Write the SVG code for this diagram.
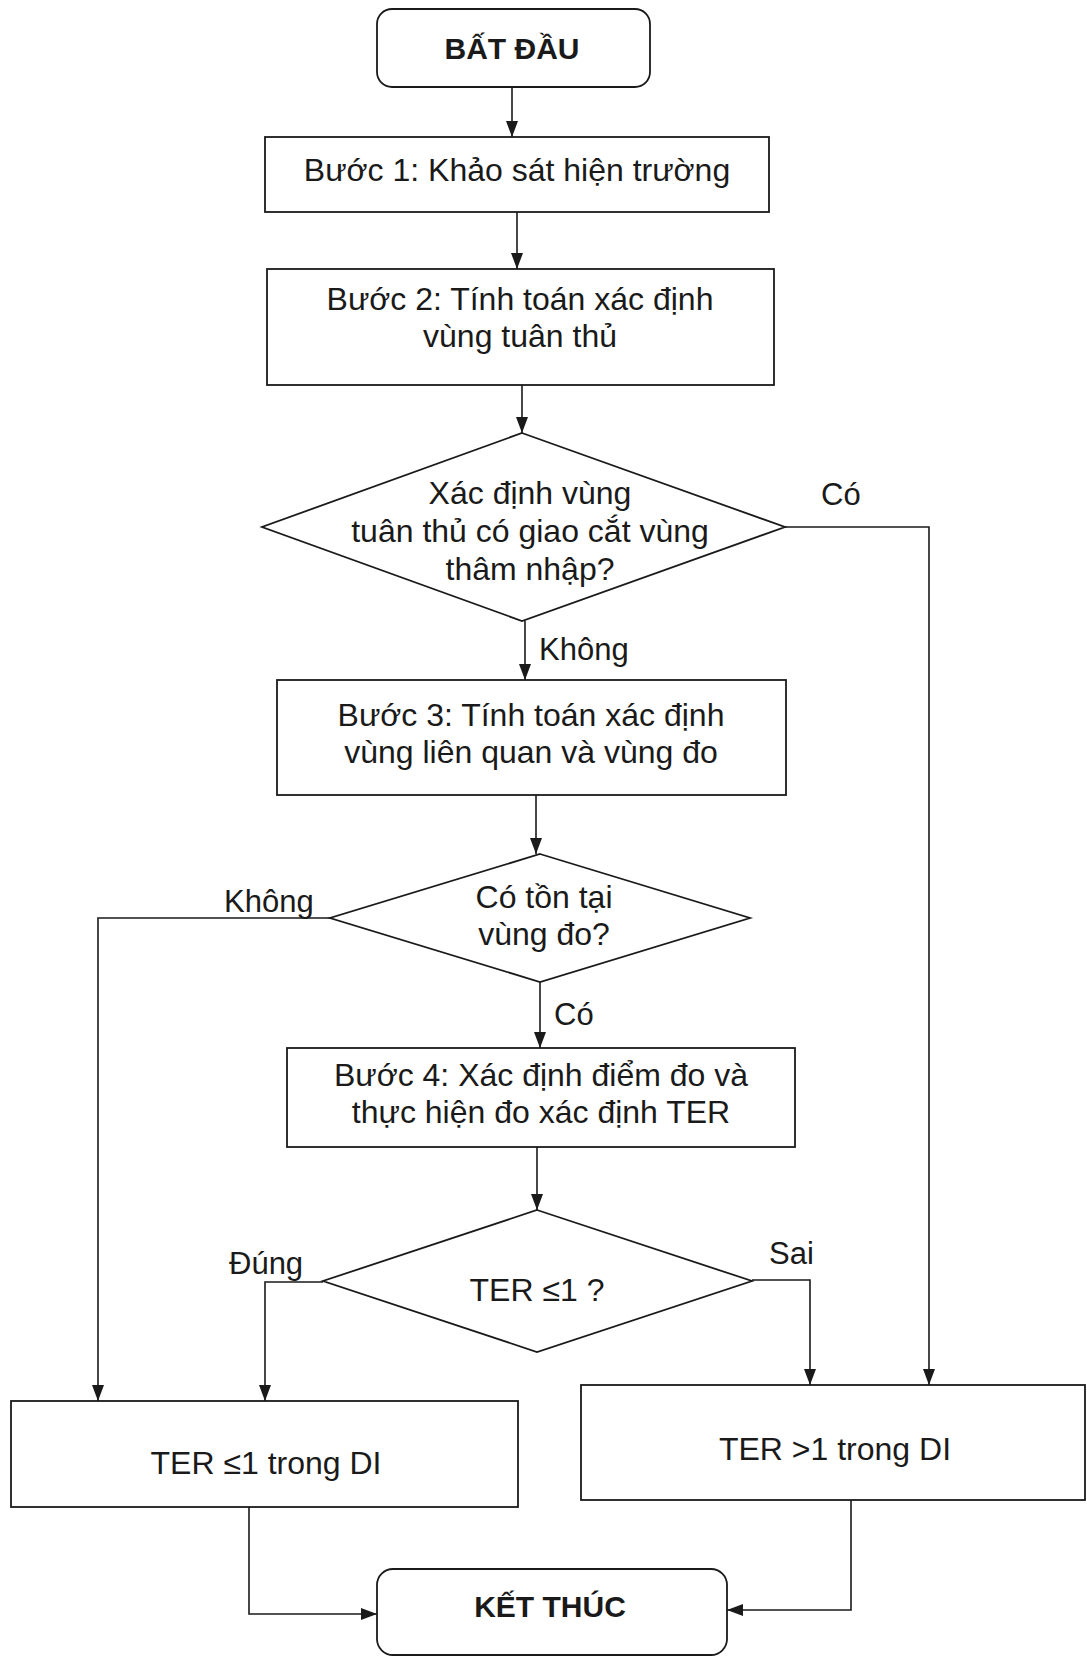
<svg xmlns="http://www.w3.org/2000/svg" width="1087" height="1657" viewBox="0 0 1087 1657">
<style>
.box{fill:#fff;stroke:#1a1a1a;stroke-width:1.8}
.t{font-family:"Liberation Sans",Arial,sans-serif;font-size:32px;fill:#1a1a1a;text-anchor:middle}
.b{font-family:"Liberation Sans",Arial,sans-serif;font-size:30px;font-weight:bold;fill:#1a1a1a;text-anchor:middle}
.lbl{font-family:"Liberation Sans",Arial,sans-serif;font-size:31px;fill:#1a1a1a}
.c{fill:none;stroke:#1a1a1a;stroke-width:1.6}
</style>
<defs>
<marker id="ah" markerUnits="userSpaceOnUse" markerWidth="16" markerHeight="12" refX="16" refY="6" viewBox="0 0 16 12" orient="auto">
<path d="M0,0 L16,6 L0,12 z" fill="#1a1a1a"/>
</marker>
</defs>
<rect width="1087" height="1657" fill="#fff"/>
<g id="connectors">
<line class="c" x1="512" y1="87" x2="512" y2="137" marker-end="url(#ah)"/>
<line class="c" x1="517" y1="212" x2="517" y2="269" marker-end="url(#ah)"/>
<line class="c" x1="522" y1="385" x2="522" y2="433" marker-end="url(#ah)"/>
<polyline class="c" points="785,527 929,527 929,1385" marker-end="url(#ah)"/>
<line class="c" x1="525" y1="621" x2="525" y2="680" marker-end="url(#ah)"/>
<line class="c" x1="536" y1="795" x2="536" y2="854" marker-end="url(#ah)"/>
<polyline class="c" points="330,918 98,918 98,1401" marker-end="url(#ah)"/>
<line class="c" x1="540" y1="982" x2="540" y2="1048" marker-end="url(#ah)"/>
<line class="c" x1="537" y1="1147" x2="537" y2="1210" marker-end="url(#ah)"/>
<polyline class="c" points="323,1282 265,1282 265,1401" marker-end="url(#ah)"/>
<polyline class="c" points="752,1280 810,1280 810,1385" marker-end="url(#ah)"/>
<polyline class="c" points="249,1507 249,1614 377,1614" marker-end="url(#ah)"/>
<polyline class="c" points="851,1500 851,1610 727,1610" marker-end="url(#ah)"/>
</g>
<g id="start">
<rect class="box" x="377" y="9" width="273" height="78" rx="15"/>
<text class="b" x="512" y="59">BẤT ĐẦU</text>
</g>
<g id="step1">
<rect class="box" x="265" y="137" width="504" height="75"/>
<text class="t" x="517" y="181">Bước 1: Khảo sát hiện trường</text>
</g>
<g id="step2">
<rect class="box" x="267" y="269" width="507" height="116"/>
<text class="t" x="520" y="310">Bước 2: Tính toán xác định</text>
<text class="t" x="520" y="347">vùng tuân thủ</text>
</g>
<g id="decision1">
<polygon class="box" points="522,433 785,527 522,621 262,527"/>
<text class="t" x="530" y="504">Xác định vùng</text>
<text class="t" x="530" y="542">tuân thủ có giao cắt vùng</text>
<text class="t" x="530" y="580">thâm nhập?</text>
</g>
<text class="lbl" x="821" y="505">Có</text>
<text class="lbl" x="539" y="660">Không</text>
<g id="step3">
<rect class="box" x="277" y="680" width="509" height="115"/>
<text class="t" x="531" y="726">Bước 3: Tính toán xác định</text>
<text class="t" x="531" y="763">vùng liên quan và vùng đo</text>
</g>
<g id="decision2">
<polygon class="box" points="540,854 750,918 540,982 330,918"/>
<text class="t" x="544" y="908">Có tồn tại</text>
<text class="t" x="544" y="945">vùng đo?</text>
</g>
<text class="lbl" x="224" y="912">Không</text>
<text class="lbl" x="554" y="1025">Có</text>
<g id="step4">
<rect class="box" x="287" y="1048" width="508" height="99"/>
<text class="t" x="541" y="1086">Bước 4: Xác định điểm đo và</text>
<text class="t" x="541" y="1123">thực hiện đo xác định TER</text>
</g>
<g id="decision3">
<polygon class="box" points="537,1210 752,1281 537,1352 323,1281"/>
<text class="t" x="537" y="1301">TER ≤1 ?</text>
</g>
<text class="lbl" x="229" y="1274">Đúng</text>
<text class="lbl" x="769" y="1264">Sai</text>
<g id="result-le1">
<rect class="box" x="11" y="1401" width="507" height="106"/>
<text class="t" x="266" y="1474">TER ≤1 trong DI</text>
</g>
<g id="result-gt1">
<rect class="box" x="581" y="1385" width="504" height="115"/>
<text class="t" x="835" y="1460">TER &gt;1 trong DI</text>
</g>
<g id="end">
<rect class="box" x="377" y="1569" width="350" height="86" rx="16"/>
<text class="b" x="550" y="1617">KẾT THÚC</text>
</g>
</svg>
